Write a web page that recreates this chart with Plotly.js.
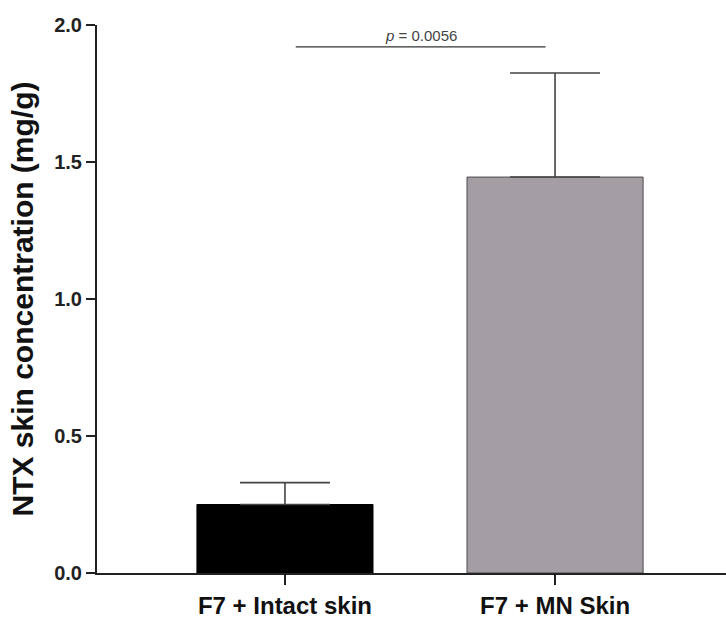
<!DOCTYPE html>
<html>
<head>
<meta charset="utf-8">
<script src="https://cdn.plot.ly/plotly-3.0.1.min.js"></script>
<style>html,body{margin:0;padding:0;background:#fff;}#chart{width:726px;height:622px;}</style>
</head>
<body>
<div id="chart"></div>
<script>
const categories = ["F7 + Intact skin", "F7 + MN Skin"];
const means = [0.25, 1.445];
const sdUpper = [0.08, 0.38];
const barColors = ["#000000", "#a49ea4"];
const yTicks = [0.0, 0.5, 1.0, 1.5, 2.0];
const yTickLabels = ["0.0", "0.5", "1.0", "1.5", "2.0"];
const sigPair = [0.04, 0.965];
const sigY = 1.92;
const sigText = "<i>p</i> = 0.0056";

const regular = "Liberation Sans, Arial, sans-serif";

const trace = {
  type: "bar",
  x: [0, 1],
  y: means,
  width: 0.652,
  marker: {color: barColors, line: {color: ["#000000", "#4a4a4a"], width: 1}},
  error_y: {type: "data", symmetric: false, array: sdUpper, arrayminus: [0, 0],
            color: "#444", thickness: 1.6, width: 45},
  hoverinfo: "skip"
};

const layout = {
  width: 726, height: 622,
  margin: {l: 97, r: 0, t: 25, b: 49},
  paper_bgcolor: "#fff", plot_bgcolor: "#fff",
  showlegend: false,
  font: {family: regular, color: "#111"},
  xaxis: {
    range: [-0.696, 1.633],
    tickvals: [0, 1], ticktext: categories,
    ticks: "outside", ticklen: 10, tickwidth: 2, tickcolor: "#222",
    showline: true, linecolor: "#222", linewidth: 2,
    showgrid: false, zeroline: false,
    tickfont: {size: 24, family: regular, weight: "bold", color: "#111"}
  },
  yaxis: {
    range: [0, 2.0],
    tickvals: yTicks, ticktext: yTickLabels,
    ticks: "outside", ticklen: 9, tickwidth: 2, tickcolor: "#222",
    showline: true, linecolor: "#222", linewidth: 2,
    showgrid: false, zeroline: false,
    tickfont: {size: 20, family: regular, weight: "bold", color: "#222"},
    title: {text: "NTX skin concentration (mg/g)", standoff: 12,
            font: {size: 30, family: regular, weight: "bold", color: "#111"}}
  },
  shapes: [{type: "line", xref: "x", yref: "y", x0: sigPair[0], x1: sigPair[1], y0: sigY, y1: sigY,
            line: {color: "#333", width: 1.3}}],
  annotations: [{xref: "x", yref: "y", x: (sigPair[0] + sigPair[1]) / 2, y: sigY, yshift: 1,
                 text: sigText, showarrow: false, yanchor: "bottom",
                 font: {size: 15, color: "#444", family: regular}}]
};

Plotly.newPlot("chart", [trace], layout, {displayModeBar: false, staticPlot: true});
</script>
</body>
</html>
